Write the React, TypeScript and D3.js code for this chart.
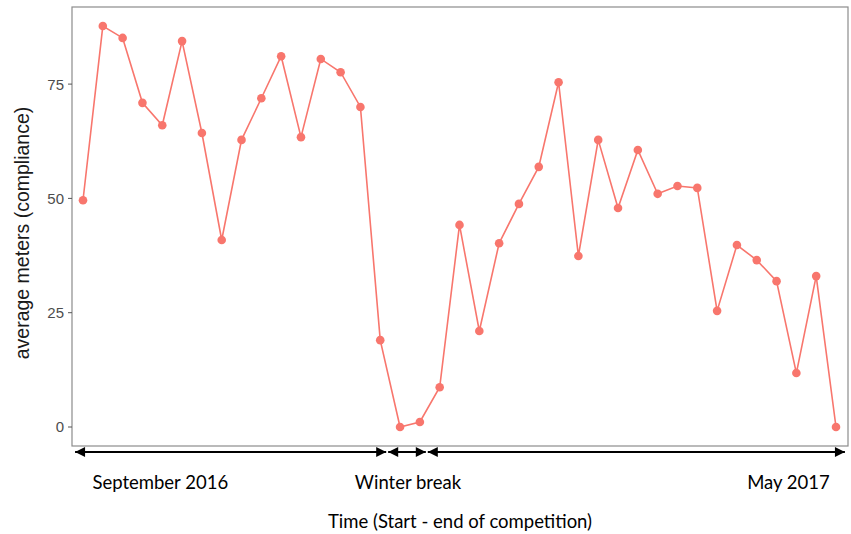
import React from "react";
import * as d3 from "d3";

const values: number[] = [
  49.6, 87.7, 85.1, 70.9, 66.0, 84.4, 64.3, 40.9, 62.8, 71.9, 81.1, 63.4, 80.5,
  77.6, 70.0, 19.0, 0.0, 1.1, 8.7, 44.2, 21.0, 40.2, 48.8, 56.9, 75.4, 37.4,
  62.8, 47.9, 60.6, 51.0, 52.7, 52.3, 25.4, 39.8, 36.5, 31.9, 11.8, 33.0, 0.0,
];
const yTicks: number[] = [0, 25, 50, 75];
const periodLabels: string[] = ["September 2016", "Winter break", "May 2017"];
// period boundaries in index units (x domain)
const periodBounds: [number, number][] = [
  [-0.4, 15.3],
  [15.4, 17.3],
  [17.4, 38.45],
];
const periodLabelPos: number[] = [3.9, 16.4, 35.6];

const W = 851;
const H = 534;
const panel = { left: 72, right: 848, top: 7, bottom: 446 };

export default function App() {
  const x = d3
    .scaleLinear()
    .domain([0, values.length - 1])
    .range([83, 836]);
  const y = d3.scaleLinear().domain([0, 25]).range([427, 312.7]);
  const line = d3
    .line<number>()
    .x((_, i) => x(i))
    .y((d) => y(d));
  const color = "#F8766D";
  const arrowY = 452;
  return (
    <svg
      width={W}
      height={H}
      style={{ position: "absolute", left: 0, top: 0, background: "#fff" }}
    >
      <defs>
        <marker
          id="ah"
          viewBox="0 0 10 10"
          refX="10"
          refY="5"
          markerWidth="11"
          markerHeight="10"
          markerUnits="userSpaceOnUse"
          orient="auto-start-reverse"
        >
          <path d="M0,0 L10,5 L0,10 Z" fill="#000" />
        </marker>
      </defs>
      <rect width={W} height={H} fill="#fff" />
      <rect
        x={panel.left}
        y={panel.top}
        width={panel.right - panel.left}
        height={panel.bottom - panel.top}
        fill="none"
        stroke="#8c8c8c"
        strokeWidth={1.2}
      />
      {yTicks.map((t) => (
        <g key={t}>
          <line
            x1={panel.left - 4}
            x2={panel.left}
            y1={y(t)}
            y2={y(t)}
            stroke="#555"
            strokeWidth={1}
          />
          <text
            x={panel.left - 8}
            y={y(t)}
            dy="0.36em"
            textAnchor="end"
            fontFamily="Liberation Sans, Arial, sans-serif"
            fontSize={15}
            fill="#4d4d4d"
          >
            {t}
          </text>
        </g>
      ))}
      <text
        transform={`translate(22,233) rotate(-90)`}
        textAnchor="middle"
        dy="0.35em"
        fontFamily="Liberation Sans, Arial, sans-serif"
        fontSize={19.5}
        fill="#1a1a1a"
      >
        average meters (compliance)
      </text>
      <path d={line(values) || ""} fill="none" stroke={color} strokeWidth={1.6} />
      {values.map((v, i) => (
        <circle key={i} cx={x(i)} cy={y(v)} r={4.3} fill={color} />
      ))}
      {periodBounds.map(([a, b], i) => (
        <line
          key={i}
          x1={x(a)}
          x2={x(b)}
          y1={arrowY}
          y2={arrowY}
          stroke="#000"
          strokeWidth={2}
          markerStart="url(#ah)"
          markerEnd="url(#ah)"
        />
      ))}
      {periodLabels.map((l, i) => (
        <text
          key={l}
          x={x(periodLabelPos[i])}
          y={489}
          textAnchor="middle"
          fontFamily="Lato, 'Open Sans', sans-serif"
          fontSize={18.5}
          fill="#000"
        >
          {l}
        </text>
      ))}
      <text
        x={460}
        y={528}
        textAnchor="middle"
        fontFamily="Lato, 'Open Sans', sans-serif"
        fontSize={18.5}
        fill="#000"
      >
        Time (Start - end of competition)
      </text>
    </svg>
  );
}
